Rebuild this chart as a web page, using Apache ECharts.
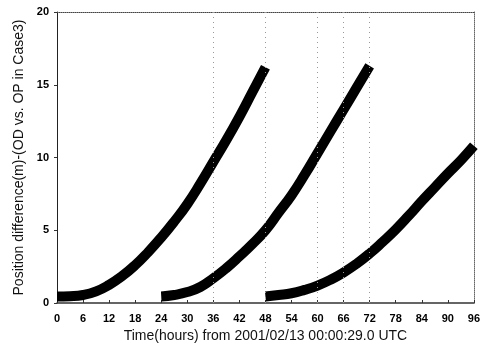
<!DOCTYPE html>
<html>
<head>
<meta charset="utf-8">
<script src="https://cdn.jsdelivr.net/npm/echarts@6/dist/echarts.min.js"></script>
<style>
  html, body { margin: 0; padding: 0; background: #fff; }
  #chart { width: 483px; height: 355px; }
</style>
</head>
<body>
<div id="chart"></div>
<script>
// values (hours, metres)
const run1Hours = [0, 3, 6, 9, 12, 15, 18, 21, 24, 27, 30, 33, 36, 39, 42, 45, 48]
const run1Diff = [0.45, 0.47, 0.55, 0.8, 1.25, 1.85, 2.6, 3.5, 4.5, 5.6, 6.8, 8.2, 9.7, 11.2, 12.8, 14.5, 16.2]
const run2Hours = [24, 27, 30, 33, 36, 39, 42, 45, 48, 51, 54, 57, 60, 63, 66, 69, 72]
const run2Diff = [0.45, 0.55, 0.75, 1.1, 1.7, 2.4, 3.2, 4.05, 5.0, 6.2, 7.4, 8.8, 10.3, 11.8, 13.3, 14.8, 16.3]
const run3Hours = [48, 51, 54, 57, 60, 63, 66, 69, 72, 75, 78, 81, 84, 87, 90, 93, 96]
const run3Diff = [0.45, 0.55, 0.67, 0.9, 1.2, 1.6, 2.1, 2.7, 3.4, 4.2, 5.05, 6.0, 7.0, 7.95, 8.9, 9.8, 10.8]
const dottedHours = [36, 48, 60, 66, 72]

const pairs = (xs, ys) => xs.map((x, i) => [x, ys[i]])

const chart = echarts.init(document.getElementById('chart'))

const runSeries = (data) => ({
  type: 'line',
  data,
  showSymbol: false,
  smooth: 0.5,
  lineStyle: { color: '#000', width: 10, cap: 'butt' },
  silent: true,
  animation: false,
  z: 3
})

chart.setOption({
  textStyle: { fontFamily: 'Liberation Sans, Arial, sans-serif' },
  grid: { left: 57, right: 8, top: 12, bottom: 52 },
  xAxis: [{
    type: 'value',
    min: 0,
    max: 96,
    interval: 6,
    name: 'Time(hours) from 2001/02/13 00:00:29.0 UTC',
    nameLocation: 'middle',
    nameGap: 25,
    nameTextStyle: { color: '#111', fontSize: 14 },
    axisLine: { lineStyle: { color: '#333', width: 1.5 } },
    axisTick: { length: 3, inside: true, lineStyle: { color: '#333' } },
    axisLabel: { color: '#000', fontWeight: 'bold', fontSize: 11, margin: 10 },
    splitLine: { show: false }
  }, {
    type: 'value',
    position: 'top',
    min: 0,
    max: 96,
    axisLine: { show: true, onZero: false, lineStyle: { color: '#444', type: 'dotted', width: 1 } },
    axisTick: { show: false },
    axisLabel: { show: false },
    splitLine: { show: false }
  }],
  yAxis: [{
    type: 'value',
    min: 0,
    max: 20,
    interval: 5,
    name: 'Position difference(m)-(OD vs. OP in Case3)',
    nameLocation: 'middle',
    nameGap: 30,
    nameTextStyle: { color: '#111', fontSize: 14 },
    axisLine: { show: true, lineStyle: { color: '#222', width: 1 } },
    axisTick: { show: true, length: 3, lineStyle: { color: '#333' } },
    axisLabel: { color: '#000', fontWeight: 'bold', fontSize: 11, margin: 8 },
    splitLine: { show: false }
  }, {
    type: 'value',
    position: 'right',
    min: 0,
    max: 20,
    axisLine: { show: true, onZero: false, lineStyle: { color: '#666', type: 'dotted', width: 1 } },
    axisTick: { show: false },
    axisLabel: { show: false },
    splitLine: { show: false }
  }],
  series: [
    Object.assign(runSeries(pairs(run1Hours, run1Diff)), {
      markLine: {
        silent: true,
        symbol: 'none',
        label: { show: false },
        lineStyle: { color: '#999', type: [1, 4], width: 1 },
        data: dottedHours.map(h => ({ xAxis: h }))
      }
    }),
    runSeries(pairs(run2Hours, run2Diff)),
    runSeries(pairs(run3Hours, run3Diff))
  ]
})
</script>
</body>
</html>
